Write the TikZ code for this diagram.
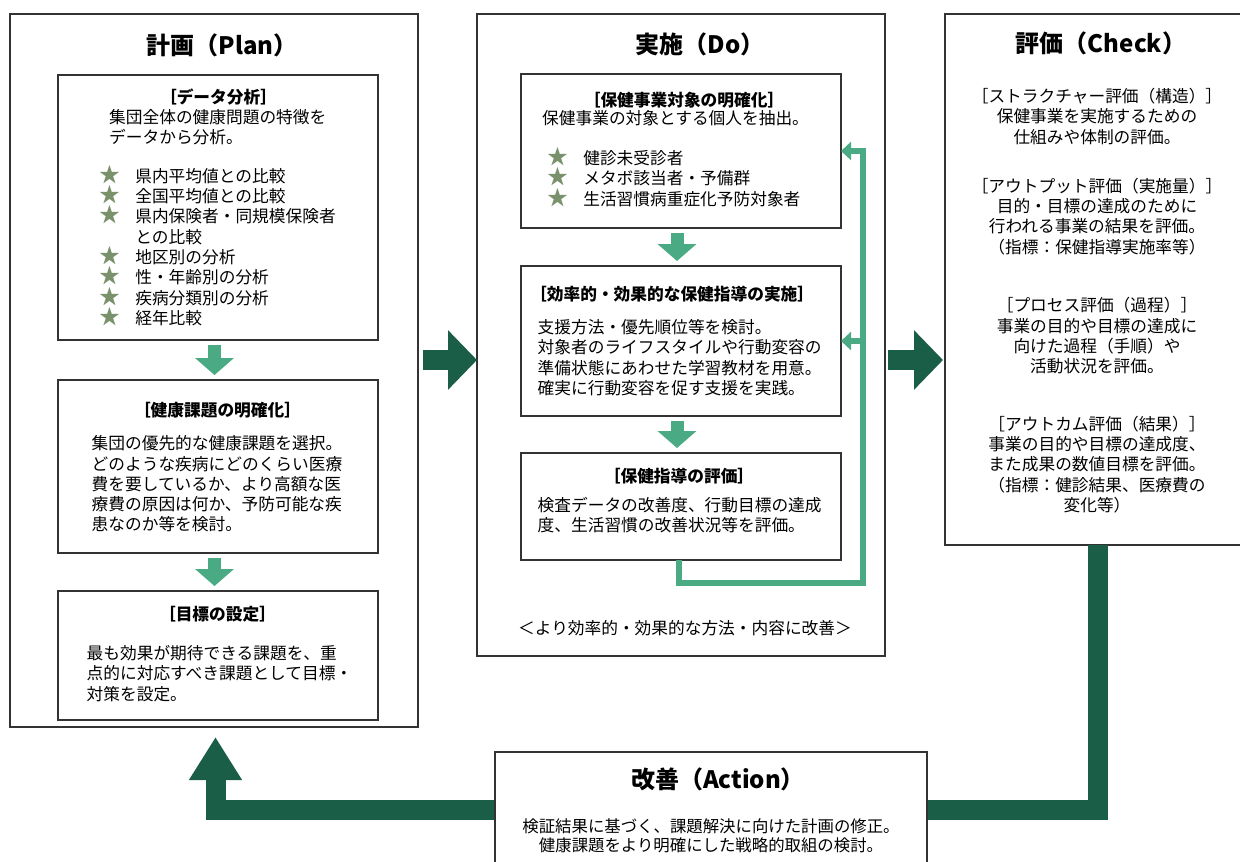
\documentclass[tikz,border=0pt]{standalone}
\usepackage{fontspec}
\setmainfont{Noto Sans CJK JP}
\usetikzlibrary{arrows.meta,calc}
\definecolor{dgreen}{RGB}{26,94,72}
\definecolor{lgreen}{RGB}{74,170,132}
\definecolor{starc}{RGB}{122,146,108}
\definecolor{bord}{RGB}{51,51,51}
\newcommand\stm{\makebox[1em]{\textcolor{starc}{\scalebox{1.25}{★}}}\quad}
\begin{document}
\begin{tikzpicture}[x=1pt,y=-1pt,
  outerbox/.style={draw=bord,line width=2pt,fill=white,inner sep=0,outer sep=0,anchor=north west},
  innerbox/.style={draw=bord,line width=1.5pt,fill=white,inner sep=0,outer sep=0,anchor=north west},
  titletext/.style={font=\fontsize{24}{28}\selectfont\bfseries,inner sep=0},
  headtext/.style={font=\fontsize{16.7}{20.3}\selectfont\bfseries,inner sep=0},
  bodytext/.style={font=\fontsize{16.7}{20.3}\selectfont,inner sep=0,align=left,anchor=west},
  ctext/.style={font=\fontsize{16.7}{20.3}\selectfont,inner sep=0,align=center},
  bigarrow/.style={draw=dgreen,line width=20pt,-{Triangle[width=58pt,length=29pt]}},
  smallarrow/.style={draw=lgreen,line width=13pt,-{Triangle[width=38pt,length=17pt]}},
  fbline/.style={draw=lgreen,line width=5.5pt,line join=miter},
  fbarrow/.style={fbline,-{Triangle[width=18pt,length=10pt]}},
]
\useasboundingbox (0,0) rectangle (1240,862);

\coordinate (lc) at (1098,809.5);
\coordinate (lt) at (215.5,737);
\coordinate (mid) at (0,360);
\coordinate (fbc) at (863,583);

% outer boxes
\node[outerbox,minimum width=408,minimum height=713] (plan) at (10,14) {};
\node[outerbox,minimum width=408,minimum height=642] (do) at (477,14) {};
\node[outerbox,minimum width=310,minimum height=531] (check) at (945,14) {};

% big return loop (Check -> Action -> Plan)
\draw[draw=dgreen,line width=20pt,line join=miter,-{Triangle[width=50pt,length=43pt]}]
  (check.south -| lc) -- (lc) -| (lt);

\node[outerbox,minimum width=432,minimum height=130] (action) at (495,752) {};

% inner boxes
\node[innerbox,minimum width=320,minimum height=265] (p1) at (58,75) {};
\node[innerbox,minimum width=320,minimum height=173] (p2) at (58,380) {};
\node[innerbox,minimum width=320,minimum height=129] (p3) at (58,591) {};
\node[innerbox,minimum width=320,minimum height=154] (d1) at (521,74) {};
\node[innerbox,minimum width=320,minimum height=150] (d2) at (521,266) {};
\node[innerbox,minimum width=320,minimum height=107] (d3) at (521,453) {};

% arrows between inner boxes
\draw[smallarrow] ($(p1.south)+(-3.5,5)$) -- ($(p2.north)+(-3.5,-5)$);
\draw[smallarrow] ($(p2.south)+(-3.5,5)$) -- ($(p3.north)+(-3.5,-5)$);
\draw[smallarrow] ($(d1.south)+(-4,5)$) -- ($(d2.north)+(-4,-5)$);
\draw[smallarrow] ($(d2.south)+(-4,5)$) -- ($(d3.north)+(-4,-5)$);

% big arrows between phases
\draw[bigarrow] ([xshift=5pt]plan.east |- mid) -- (do.west |- mid);
\draw[bigarrow] ([xshift=3pt]do.east |- mid) -- ([xshift=-2pt]check.west |- mid);

% feedback loop in Do
\draw[fbarrow] ([xshift=-2pt]d3.south) |- (fbc) |- (d1.east);
\draw[fbarrow] (d2.east -| fbc) -- (d2.east);

% titles
\node[titletext] (tplan) at (222,45) {計画（Plan）};
\node[titletext] (tdo) at (700,44) {実施（Do）};
\node[titletext] (tcheck) at (1101,43) {評価（Check）};
\node[titletext] (taction) at (718,779) {改善（Action）};

% Plan contents
\node[headtext] (p1h) at (218.5,97) {［データ分析］};
\node[bodytext] (p1b) at (109,127.5) {集団全体の健康問題の特徴を\\データから分析。};
\node[bodytext] (p1s) at (101.7,245.5) {\stm 県内平均値との比較\\\stm 全国平均値との比較\\\stm 県内保険者・同規模保険者\\\hspace{33.4pt}との比較\\\stm 地区別の分析\\\stm 性・年齢別の分析\\\stm 疾病分類別の分析\\\stm 経年比較};

\node[headtext] (p2h) at (217.5,410) {［健康課題の明確化］};
\node[bodytext] (p2b) at (91.5,484) {集団の優先的な健康課題を選択。\\どのような疾病にどのくらい医療\\費を要しているか、より高額な医\\療費の原因は何か、予防可能な疾\\患なのか等を検討。};

\node[headtext] (p3h) at (217.5,614.5) {［目標の設定］};
\node[bodytext] (p3b) at (86.5,673.5) {最も効果が期待できる課題を、重\\点的に対応すべき課題として目標・\\対策を設定。};

% Do contents
\node[headtext] (d1h) at (684,100) {［保健事業対象の明確化］};
\node[bodytext] (d1b) at (542,118) {保健事業の対象とする個人を抽出。};
\node[bodytext] (d1s) at (549.7,177) {\stm 健診未受診者\\\stm メタボ該当者・予備群\\\stm 生活習慣病重症化予防対象者};

\node[headtext,anchor=west] (d2h) at (530,294) {［効率的・効果的な保健指導の実施］};
\node[bodytext] (d2b) at (537.5,357.5) {支援方法・優先順位等を検討。\\対象者のライフスタイルや行動変容の\\準備状態にあわせた学習教材を用意。\\確実に行動変容を促す支援を実践。};

\node[headtext] (d3h) at (679,476) {［保健指導の評価］};
\node[bodytext] (d3b) at (537.5,515) {検査データの改善度、行動目標の達成\\度、生活習慣の改善状況等を評価。};

\node[ctext] (dnote) at (685,628) {＜より効率的・効果的な方法・内容に改善＞};

% Check contents
\node[ctext] (c1) at (1097,116.5) {［ストラクチャー評価（構造）］\\保健事業を実施するための\\仕組みや体制の評価。};
\node[ctext] (c2) at (1097,216.5) {［アウトプット評価（実施量）］\\目的・目標の達成のために\\行われる事業の結果を評価。\\（指標：保健指導実施率等）};
\node[ctext] (c3) at (1097,336) {［プロセス評価（過程）］\\事業の目的や目標の達成に\\向けた過程（手順）や\\活動状況を評価。};
\node[ctext] (c4) at (1097,464.5) {［アウトカム評価（結果）］\\事業の目的や目標の達成度、\\また成果の数値目標を評価。\\（指標：健診結果、医療費の\\変化等）};

% Action contents
\node[ctext,font=\fontsize{16.4}{19.5}\selectfont] (ab) at (711,836) {検証結果に基づく、課題解決に向けた計画の修正。\\健康課題をより明確にした戦略的取組の検討。};

\end{tikzpicture}
\end{document}
